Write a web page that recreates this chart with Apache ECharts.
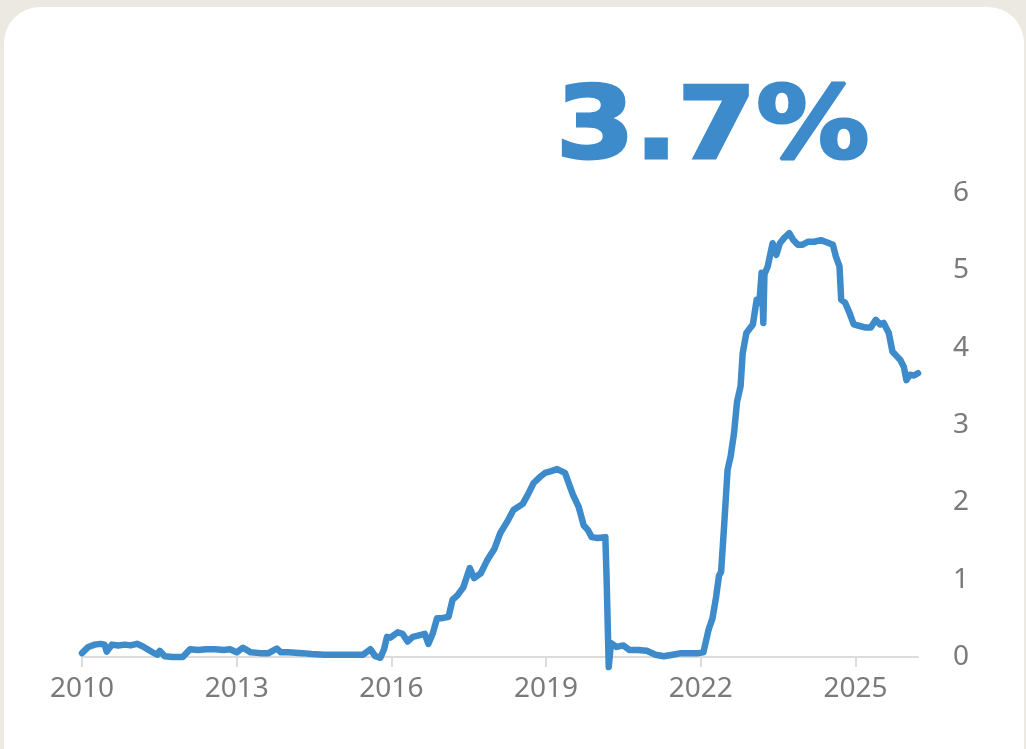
<!DOCTYPE html>
<html>
<head>
<meta charset="utf-8">
<script src="https://cdn.jsdelivr.net/npm/echarts@6/dist/echarts.min.js"></script>
<style>
html,body{margin:0;padding:0;width:1026px;height:749px;overflow:hidden;background:#ecE9e2;}
#card{position:absolute;left:4px;top:7px;width:1020px;height:800px;background:#fff;border-radius:36px;}
#chart{position:absolute;left:0;top:0;width:1026px;height:749px;}
</style>
</head>
<body>
<div id="card"></div>
<div id="chart"></div>
<script>
const headline = '3.7%';
const yearTicks = [2010, 2013, 2016, 2019, 2022, 2025];
const yTicks = [0, 1, 2, 3, 4, 5, 6];

const dates = [
'2010-01-01','2010-02-15','2010-04-01','2010-05-10','2010-06-10','2010-06-25','2010-08-01','2010-09-15','2010-11-01','2010-12-10',
'2011-01-25','2011-03-05','2011-04-01','2011-05-15','2011-06-20','2011-07-05','2011-08-10','2011-10-01','2011-12-15',
'2012-02-05','2012-04-01','2012-06-01','2012-08-01','2012-10-01','2012-11-15','2013-01-01','2013-02-15','2013-04-10','2013-06-15',
'2013-08-15','2013-10-12','2013-11-10','2014-01-01','2014-04-10','2014-06-15','2014-09-15','2014-12-15','2015-03-15','2015-06-15',
'2015-08-05','2015-09-10','2015-10-15','2015-11-10','2015-12-01','2015-12-25','2016-02-15','2016-03-20','2016-04-25','2016-06-01',
'2016-07-15','2016-08-25','2016-09-20','2016-10-20','2016-11-20','2016-12-20','2017-02-10','2017-03-10','2017-04-15','2017-05-25',
'2017-07-10','2017-08-10','2017-09-25','2017-11-10','2018-01-01','2018-02-10','2018-04-01','2018-05-15','2018-07-20','2018-08-25',
'2018-10-05','2018-11-20','2018-12-25','2019-02-01','2019-03-20','2019-05-15','2019-06-20','2019-07-10','2019-08-20','2019-09-25',
'2019-10-25','2019-11-20','2020-01-01','2020-02-25','2020-03-05','2020-03-20','2020-04-05','2020-05-15','2020-07-01','2020-08-15',
'2020-10-15','2020-12-15','2021-02-15','2021-04-15','2021-06-15','2021-08-15','2021-10-15','2021-12-15','2022-01-20','2022-02-25',
'2022-03-25','2022-04-20','2022-05-10','2022-05-25','2022-06-15','2022-07-10','2022-08-01','2022-08-25','2022-09-15','2022-10-10',
'2022-10-25','2022-11-20','2023-01-05','2023-02-01','2023-02-20','2023-03-08','2023-03-20','2023-03-28','2023-04-20','2023-05-25',
'2023-06-20','2023-07-15','2023-08-15','2023-09-20','2023-10-15','2023-11-20','2023-12-20','2024-02-01','2024-03-15','2024-05-01',
'2024-06-15','2024-07-25','2024-08-15','2024-09-10','2024-09-22','2024-10-20','2024-11-20','2024-12-20','2025-02-01','2025-03-15',
'2025-04-20','2025-05-25','2025-06-25','2025-07-20','2025-08-25','2025-09-20','2025-10-15','2025-11-15','2025-12-10','2025-12-28',
'2026-01-20','2026-02-20','2026-03-20'
];
const yields = [
0.05,0.13,0.16,0.17,0.16,0.07,0.16,0.15,0.16,0.15,
0.17,0.14,0.11,0.06,0.03,0.08,0.01,0.00,0.00,
0.10,0.09,0.10,0.10,0.09,0.10,0.06,0.12,0.06,0.05,
0.05,0.11,0.06,0.06,0.05,0.04,0.03,0.03,0.03,0.03,
0.10,0.01,-0.01,0.10,0.26,0.25,0.32,0.30,0.20,0.26,
0.28,0.30,0.17,0.30,0.50,0.50,0.52,0.74,0.80,0.90,
1.15,1.02,1.08,1.25,1.40,1.60,1.75,1.90,1.98,2.10,
2.25,2.33,2.38,2.40,2.43,2.38,2.20,2.10,1.94,1.70,
1.64,1.55,1.54,1.55,1.00,-0.13,0.18,0.13,0.15,0.09,
0.09,0.08,0.03,0.01,0.03,0.05,0.05,0.05,0.06,0.35,
0.50,0.78,1.05,1.10,1.68,2.42,2.60,2.90,3.30,3.50,
3.93,4.19,4.30,4.62,4.58,4.97,4.32,4.95,5.05,5.35,
5.20,5.35,5.42,5.48,5.40,5.33,5.33,5.37,5.37,5.39,
5.36,5.33,5.18,5.05,4.62,4.58,4.45,4.30,4.28,4.26,
4.26,4.36,4.30,4.32,4.19,3.95,3.90,3.84,3.75,3.58,
3.65,3.64,3.67
];

function toYear(s){
  const p = s.split('-').map(Number);
  const start = Date.UTC(p[0],0,1), end = Date.UTC(p[0]+1,0,1);
  return p[0] + (Date.UTC(p[0],p[1]-1,p[2]) - start)/(end-start);
}
const seriesData = dates.map((d,i)=>[toYear(d), yields[i]]);
const xMax = toYear(dates[dates.length-1]);

const blue = '#3d8bcb';
const chart = echarts.init(document.getElementById('chart'), null, {renderer:'canvas'});
chart.setOption({
  backgroundColor: 'transparent',
  animation: false,
  grid: {left: 82, right: 1026-918, top: 193, bottom: 749-657},
  graphic: [{
    type: 'text', x: 556, y: 182, scaleX: 1.13,
    style: {text: headline, fill: blue, stroke: blue, lineWidth: 3, font: 'bold 100px "DejaVu Sans"', textAlign: 'left', textVerticalAlign: 'bottom'}
  }],
  xAxis: {
    type: 'value', min: 2010, max: xMax, interval: 3,
    axisLine: {show: true, lineStyle: {color: '#dcdcdc', width: 2}},
    axisTick: {show: true, customValues: yearTicks, length: 10, lineStyle: {color: '#dcdcdc', width: 2}},
    axisLabel: {customValues: yearTicks, color: '#7a7a7a', fontFamily: 'Noto Sans', fontSize: 28, margin: 18, formatter: v => String(Math.round(v))},
    splitLine: {show: false}
  },
  yAxis: {
    type: 'value', position: 'right', min: 0, max: 6, interval: 1,
    axisLine: {show: false}, axisTick: {show: false}, splitLine: {show: false},
    axisLabel: {customValues: yTicks, color: '#7a7a7a', fontFamily: 'Noto Sans', fontSize: 28, align: 'center', margin: 43, formatter: v => String(v)}
  },
  series: [{
    type: 'line', data: seriesData, showSymbol: false, clip: false,
    lineStyle: {color: blue, width: 6.5, cap: 'round', join: 'round'}
  }]
});
</script>
</body>
</html>
